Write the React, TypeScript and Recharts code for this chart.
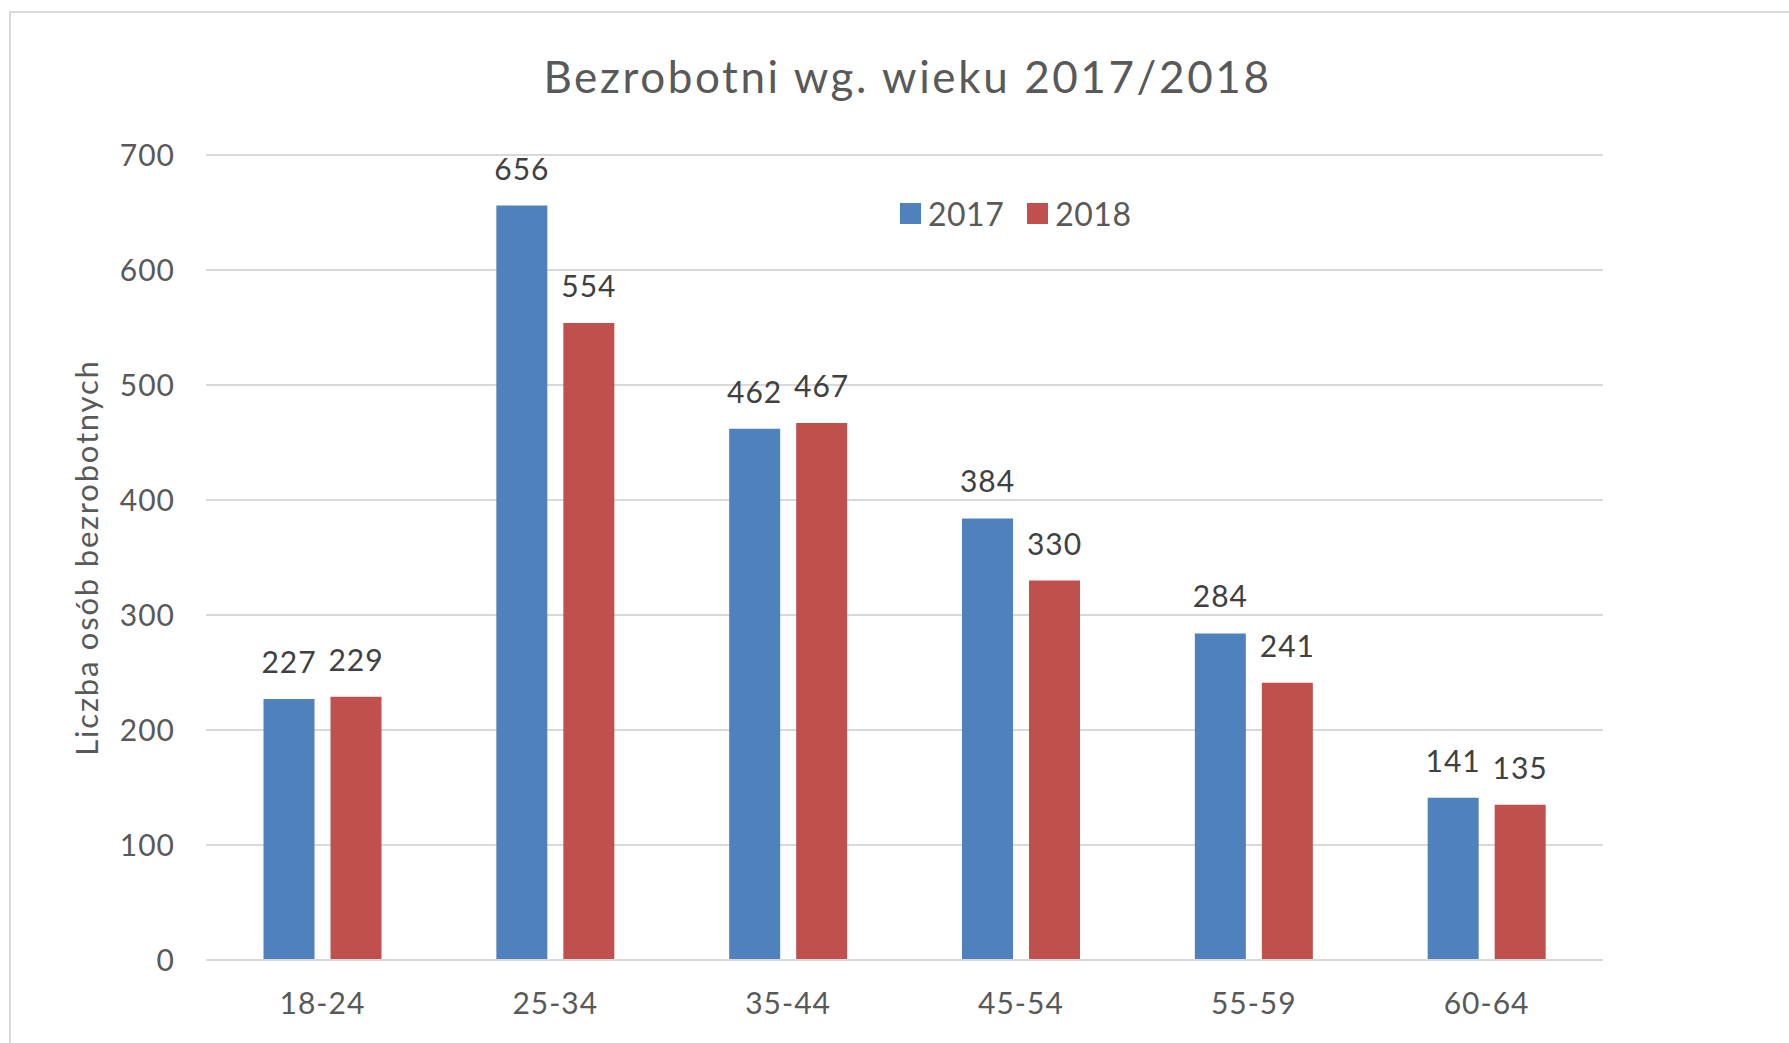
import React from 'react';
import { BarChart, Bar, XAxis, YAxis, CartesianGrid, LabelList, Legend } from 'recharts';

const categories = ['18-24', '25-34', '35-44', '45-54', '55-59', '60-64'];
const values2017 = [227, 656, 462, 384, 284, 141];
const values2018 = [229, 554, 467, 330, 241, 135];
const yTicks = [0, 100, 200, 300, 400, 500, 600, 700];
const seriesNames = ['2017', '2018'];
const colors = ['#4F81BD', '#C0504D'];

const data = categories.map((c, i) => ({ cat: c, s2017: values2017[i], s2018: values2018[i] }));

const FONT = 'Lato, "Open Sans", sans-serif';
const TEXT = '#595959';

const LegendContent = () => (
  <div style={{ display: 'flex', alignItems: 'center', fontFamily: FONT, fontSize: 32, color: TEXT, letterSpacing: 0.5 }}>
    {seriesNames.map((n, i) => (
      <div key={n} style={{ display: 'flex', alignItems: 'center', marginRight: i === 0 ? 23 : 0 }}>
        <div style={{ width: 21, height: 21, background: colors[i], marginRight: 7 }} />
        <span>{n}</span>
      </div>
    ))}
  </div>
);

const YLabel = (props: any) => {
  const vb = props.viewBox || {};
  const x = 86;
  const y = vb.y + vb.height / 2;
  return (
    <text x={x} y={y} transform={`rotate(-90, ${x}, ${y})`} textAnchor="middle" dominantBaseline="central"
      fill={TEXT} fontSize={31} fontFamily={FONT} letterSpacing={1.8}>
      Liczba osób bezrobotnych
    </text>
  );
};

export default function App() {
  return (
    <div style={{ position: 'absolute', left: 0, top: 0, width: 1789, height: 1043, background: '#fff', overflow: 'hidden' }}>
      <div style={{ position: 'absolute', left: 9, top: 11, width: 1800, height: 1100, border: '2px solid #d9d9d9', boxSizing: 'border-box' }} />
      <div style={{ position: 'absolute', left: 0, width: 1815, top: 52, textAlign: 'center', fontFamily: FONT, fontSize: 44, color: TEXT, lineHeight: '48px', letterSpacing: 2.6 }}>
        Bezrobotni wg. wieku 2017/2018
      </div>
      <div style={{ position: 'absolute', left: 0, top: 0 }}>
        <BarChart width={1789} height={1043} data={data} margin={{ top: 155, right: 186, left: 0, bottom: 0 }}
          barCategoryGap="24.7%" barGap={16}>
          <CartesianGrid vertical={false} stroke="#d9d9d9" strokeWidth={2} />
          <XAxis dataKey="cat" height={83} axisLine={{ stroke: '#d9d9d9', strokeWidth: 2 }} tickLine={false}
            tickMargin={27} tick={{ fill: TEXT, fontSize: 30, fontFamily: FONT, letterSpacing: 1 }} />
          <YAxis width={206} domain={[0, 700]} ticks={yTicks} axisLine={false} tickLine={false} tickMargin={25}
            tick={{ fill: TEXT, fontSize: 30, fontFamily: FONT, letterSpacing: 1 }} label={<YLabel />} />
          <Legend verticalAlign="middle" layout="horizontal" content={<LegendContent />}
            wrapperStyle={{ position: 'absolute', top: 194, left: 900, width: 'auto' }} />
          <Bar dataKey="s2017" name={seriesNames[0]} fill={colors[0]} isAnimationActive={false}>
            <LabelList dataKey="s2017" position="top" offset={26} fill="#404040" fontSize={30} fontFamily={FONT} letterSpacing={1} />
          </Bar>
          <Bar dataKey="s2018" name={seriesNames[1]} fill={colors[1]} isAnimationActive={false}>
            <LabelList dataKey="s2018" position="top" offset={26} fill="#404040" fontSize={30} fontFamily={FONT} letterSpacing={1} />
          </Bar>
        </BarChart>
      </div>
    </div>
  );
}
